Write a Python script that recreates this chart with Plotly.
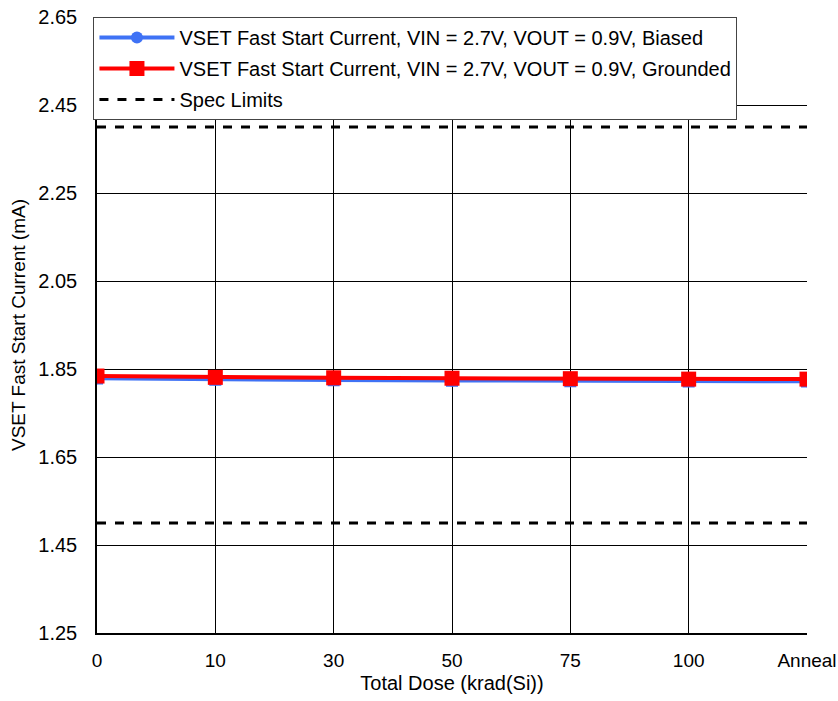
import plotly.graph_objects as go

# Total dose steps (categorical x positions)
dose_labels = ["0", "10", "30", "50", "75", "100", "Anneal"]
x_pos = list(range(len(dose_labels)))

# VSET fast start current (mA)
biased = [1.829, 1.826, 1.825, 1.824, 1.823, 1.822, 1.822]
biased_err_minus = [0.012, 0.012, 0.012, 0.012, 0.012, 0.012, 0.012]
grounded = [1.834, 1.831, 1.830, 1.829, 1.828, 1.827, 1.827]

spec_upper = 2.40
spec_lower = 1.50

y_ticks = [1.25, 1.45, 1.65, 1.85, 2.05, 2.25, 2.45, 2.65]

FONT = "Arial, Liberation Sans, sans-serif"

fig = go.Figure()

fig.add_trace(go.Scatter(
    x=x_pos, y=biased, mode="lines+markers",
    name="VSET Fast Start Current, VIN = 2.7V, VOUT = 0.9V, Biased",
    legendgroup="b",
    line=dict(color="#3f72f5", width=4),
    marker=dict(symbol="circle", size=12, color="#3f72f5"),
    error_y=dict(type="data", symmetric=False, array=[0] * len(biased),
                 arrayminus=biased_err_minus, color="#3f72f5", thickness=2, width=6),
))

fig.add_trace(go.Scatter(
    x=x_pos, y=grounded, mode="lines+markers",
    name="VSET Fast Start Current, VIN = 2.7V, VOUT = 0.9V, Grounded",
    legendgroup="g",
    line=dict(color="#ff0000", width=4),
    marker=dict(symbol="square", size=15, color="#ff0000"),
))

fig.add_trace(go.Scatter(
    x=[x_pos[0], x_pos[-1]], y=[spec_upper, spec_upper], mode="lines",
    name="Spec Limits", legendgroup="s",
    line=dict(color="black", width=3, dash="dash"),
))
fig.add_trace(go.Scatter(
    x=[x_pos[0], x_pos[-1]], y=[spec_lower, spec_lower], mode="lines",
    name="Spec Limits", legendgroup="s", showlegend=False,
    line=dict(color="black", width=3, dash="dash"),
))

fig.update_layout(
    width=838, height=701,
    margin=dict(l=97, r=31, t=17, b=68),
    paper_bgcolor="white", plot_bgcolor="white",
    font=dict(family=FONT, size=18, color="black"),
    showlegend=True,
    legend=dict(
        x=-0.005, y=1.0, xanchor="left", yanchor="top",
        bgcolor="white", bordercolor="#444", borderwidth=1,
        font=dict(family=FONT, size=20, color="black"),
        tracegroupgap=2, itemwidth=75,
    ),
    xaxis=dict(
        range=[0, 6], tickmode="array", tickvals=x_pos, ticktext=dose_labels,
        showgrid=True, gridcolor="black", gridwidth=1,
        showline=True, linecolor="black", linewidth=1.5, mirror=False,
        ticks="outside", ticklen=9, tickcolor="white", zeroline=False,
        tickfont=dict(family=FONT, size=19, color="black"),
        ticklabeloverflow="allow",
        automargin=False,
        title=dict(text="Total Dose (krad(Si))", standoff=6,
                   font=dict(family=FONT, size=20, color="black")),
    ),
    yaxis=dict(
        range=[1.25, 2.65], tickmode="array", tickvals=y_ticks,
        ticktext=[f"{v:.2f}" for v in y_ticks],
        showgrid=True, gridcolor="black", gridwidth=1,
        showline=True, linecolor="black", linewidth=1.5,
        ticks="outside", ticklen=14, tickcolor="white", zeroline=False,
        tickfont=dict(family=FONT, size=20, color="black"),
        automargin=False,
        title=dict(text="VSET Fast Start Current (mA)", standoff=8,
                   font=dict(family=FONT, size=19, color="black")),
    ),
)

fig.write_html("out.html")
